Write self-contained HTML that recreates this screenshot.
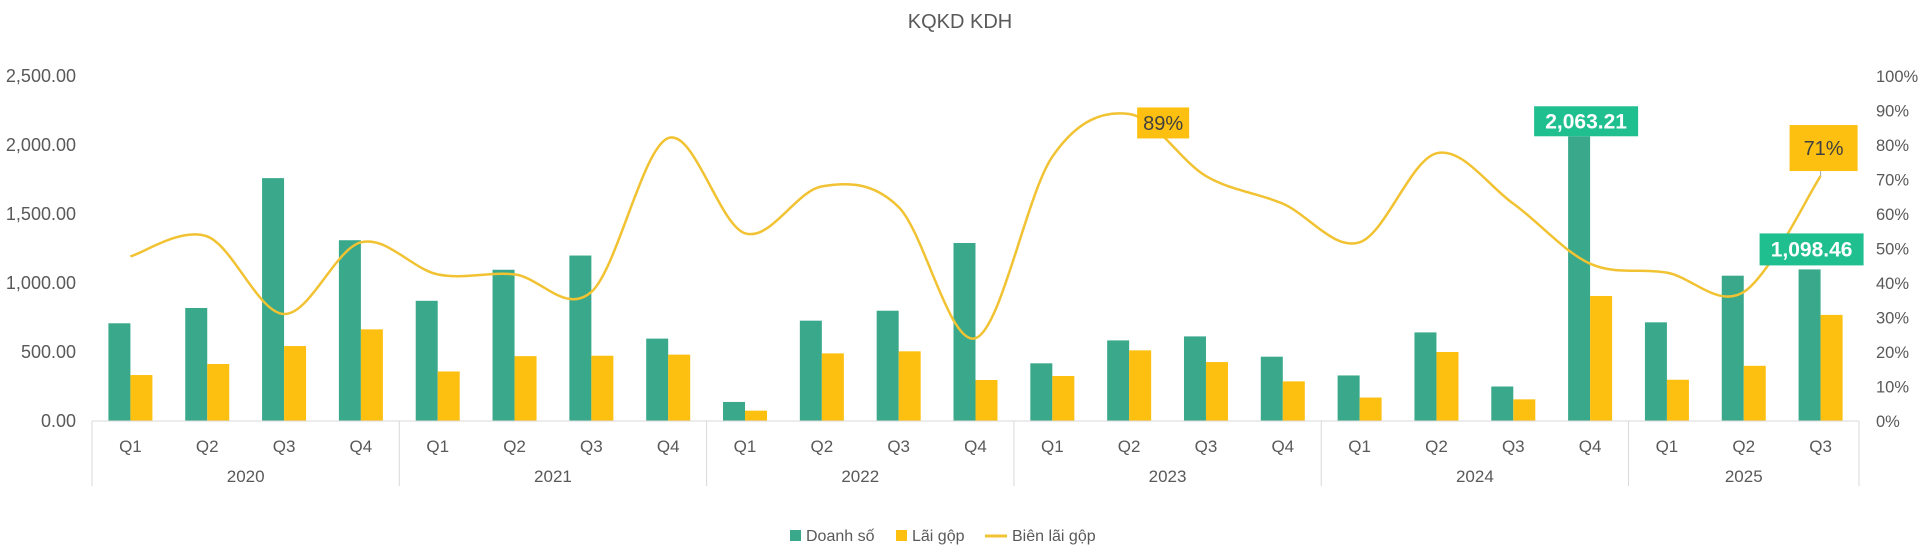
<!DOCTYPE html>
<html><head><meta charset="utf-8"><style>
html,body{margin:0;padding:0;background:#fff;}
svg{display:block;font-family:"Liberation Sans",sans-serif;}
</style></head><body>
<svg id="chart" width="1920" height="559" viewBox="0 0 1920 559">
<text x="960" y="28" text-anchor="middle" font-size="20" fill="#595959">KQKD KDH</text>
<g id="grid"></g><g id="bars"></g><g id="line"></g><g id="labels"></g><g id="axes"></g>
<g>
<g><rect x="790" y="530" width="11" height="11" fill="#3aa98b"/><text x="806" y="541" font-size="16" fill="#595959">Doanh số</text></g>
<g><rect x="896" y="530" width="11" height="11" fill="#fdc010"/><text x="912" y="541" font-size="16" fill="#595959">Lãi gộp</text></g>
<g><line x1="985" y1="536" x2="1007" y2="536" stroke="#f1c232" stroke-width="3"/><text x="1012" y="541" font-size="16" fill="#595959">Biên lãi gộp</text></g>
</g>
</svg>
<script>
const years = ["2020","2021","2022","2023","2024","2025"];
const quarters = ["Q1","Q2","Q3","Q4","Q1","Q2","Q3","Q4","Q1","Q2","Q3","Q4","Q1","Q2","Q3","Q4","Q1","Q2","Q3","Q4","Q1","Q2","Q3"];
const yearOfCat = [0,0,0,0,1,1,1,1,2,2,2,2,3,3,3,3,4,4,4,4,5,5,5];
const revenue = [708,819,1760,1310,871,1096,1199,597,138,727,799,1290,418,584,613,466,330,642,250,2063.21,715,1053,1098.46];
const grossProfit = [333,413,543,664,359,470,473,481,75,490,505,297,326,512,427,287,170,500,157,906,299,400,769];
const margin = [47.7,53.5,31,51.8,42.5,42.5,37.4,82,54.4,68,62,24,76.6,89,71,63,51.8,77.6,63,45.6,43,37.4,71];
const leftTicks = [0,500,1000,1500,2000,2500];
const rightTicks = [0,10,20,30,40,50,60,70,80,90,100];

const NS="http://www.w3.org/2000/svg";
const X0=92,X1=1859,Y0=421,Y1=76;
const n=quarters.length, cw=(X1-X0)/n;
const xc=i=>X0+cw*(i+0.5);
const yL=v=>Y0-(v/2500)*(Y0-Y1);
const yR=p=>Y0-(p/100)*(Y0-Y1);
function mk(tag,attrs,parent,txt){const e=document.createElementNS(NS,tag);for(const k in attrs)e.setAttribute(k,attrs[k]);if(txt!==undefined)e.textContent=txt;parent.appendChild(e);return e;}
const g=id=>document.getElementById(id);

leftTicks.forEach(v=>{
  const t=mk("text",{x:76,y:yL(v)+6,"text-anchor":"end","font-size":"18",fill:"#595959"},g("axes"),v.toLocaleString("en-US",{minimumFractionDigits:2,maximumFractionDigits:2}));
  
  
});
rightTicks.forEach(p=>{
  const t=mk("text",{x:1876,y:yR(p)+6,"font-size":"16.5",fill:"#595959"},g("axes"),p+"%");
  
  
});
mk("line",{x1:X0,y1:Y0,x2:X1,y2:Y0,stroke:"#d9d9d9","stroke-width":1},g("axes"));
let bounds=[0];
for(let i=1;i<n;i++) if(yearOfCat[i]!==yearOfCat[i-1]) bounds.push(i);
bounds.push(n);
bounds.forEach(b=>{mk("line",{x1:X0+cw*b,y1:Y0,x2:X0+cw*b,y2:486,stroke:"#d9d9d9","stroke-width":1},g("axes"));});
for(let k=0;k<bounds.length-1;k++){
  const cx=X0+cw*(bounds[k]+bounds[k+1])/2;
  const t=mk("text",{x:cx,y:482,"text-anchor":"middle","font-size":"17","fill":"#595959"},g("axes"),years[yearOfCat[bounds[k]]]);
  
  
}
quarters.forEach((q,i)=>{
  const t=mk("text",{x:xc(i),y:452,"text-anchor":"middle","font-size":"17",fill:"#595959"},g("axes"),q);
  
  
});
const bw=22;
revenue.forEach((v,i)=>{
  const r=mk("rect",{x:xc(i)-bw,y:yL(v),width:bw,height:Y0-yL(v),fill:"#3aa98b"},g("bars"));
  
  
});
grossProfit.forEach((v,i)=>{
  const r=mk("rect",{x:xc(i),y:yL(v),width:bw,height:Y0-yL(v),fill:"#fdc010"},g("bars"));
  
  
});
const pts=margin.map((p,i)=>[xc(i),yR(p)]);
let d="M"+pts[0][0]+","+pts[0][1];
for(let i=0;i<pts.length-1;i++){
  const p0=pts[Math.max(i-1,0)],p1=pts[i],p2=pts[i+1],p3=pts[Math.min(i+2,pts.length-1)];
  const t=1/6;
  d+=" C"+(p1[0]+(p2[0]-p0[0])*t)+","+(p1[1]+(p2[1]-p0[1])*t)+" "+(p2[0]-(p3[0]-p1[0])*t)+","+(p2[1]-(p3[1]-p1[1])*t)+" "+p2[0]+","+p2[1];
}
const ln=mk("path",{d:d,fill:"none",stroke:"#f1c232","stroke-width":2.5},g("line"));



function label(text,cx,cy,w,h,bg,fg,bold,name){
  const gg=mk("g",{},g("labels"));
  
  
  mk("rect",{x:cx-w/2,y:cy-h/2,width:w,height:h,fill:bg},gg);
  mk("text",{x:cx,y:cy+7,"text-anchor":"middle","font-size":bold?"21":"20","font-weight":bold?"bold":"normal",fill:fg},gg,text);
}
const iMax=19,iLast=n-1,iPeak=13;
label(revenue[iMax].toLocaleString("en-US",{minimumFractionDigits:2}),xc(iMax)-4,yL(revenue[iMax])-15,104,30,"#1fbf8f","#fff",true,"revenue-data-label-2024q4");
label(revenue[iLast].toLocaleString("en-US",{minimumFractionDigits:2}),xc(iLast)-9,yL(revenue[iLast])-20,104,32,"#1fbf8f","#fff",true,"revenue-data-label-2025q3");
mk("line",{x1:xc(iLast),y1:yR(margin[iLast]),x2:xc(iLast),y2:yR(margin[iLast])-8,stroke:"#a6a6a6","stroke-width":1},g("labels"));
label(Math.round(margin[iLast])+"%",xc(iLast)+3,yR(margin[iLast])-28,68,46,"#fdc010","#404040",false,"margin-data-label-2025q3");
label(Math.round(margin[iPeak])+"%",xc(iPeak)+34,yR(margin[iPeak])+9,52,31,"#fdc010","#404040",false,"margin-data-label-2023q2");
</script>
</body></html>
